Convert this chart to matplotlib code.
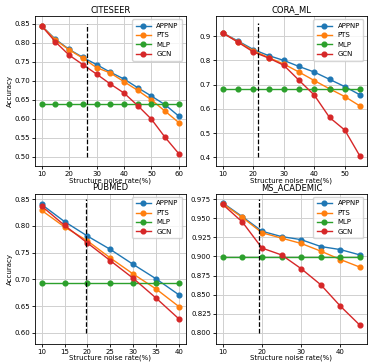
import numpy as np
import matplotlib.pyplot as plt

# data
cite_x = [10, 15, 20, 25, 30, 35, 40, 45, 50, 55, 60]
cite_appnp = [0.845, 0.810, 0.783, 0.762, 0.743, 0.723, 0.705, 0.682, 0.660, 0.637, 0.607]
cite_pts = [0.845, 0.808, 0.782, 0.760, 0.735, 0.721, 0.698, 0.675, 0.650, 0.620, 0.590]
cite_mlp = [0.639] * 11
cite_gcn = [0.845, 0.803, 0.768, 0.743, 0.718, 0.692, 0.668, 0.635, 0.599, 0.551, 0.508]

cora_x = [10, 15, 20, 25, 30, 35, 40, 45, 50, 55]
cora_appnp = [0.913, 0.880, 0.845, 0.820, 0.800, 0.775, 0.752, 0.722, 0.692, 0.658]
cora_pts = [0.913, 0.877, 0.840, 0.812, 0.785, 0.752, 0.717, 0.683, 0.651, 0.612]
cora_mlp = [0.682] * 10
cora_gcn = [0.913, 0.875, 0.835, 0.810, 0.780, 0.718, 0.657, 0.565, 0.513, 0.405]

pub_x = [10, 15, 20, 25, 30, 35, 40]
pub_appnp = [0.840, 0.808, 0.781, 0.756, 0.728, 0.701, 0.671]
pub_pts = [0.829, 0.798, 0.772, 0.740, 0.710, 0.682, 0.649]
pub_mlp = [0.694] * 7
pub_gcn = [0.837, 0.801, 0.768, 0.735, 0.702, 0.665, 0.626]

ms_x = [10, 15, 20, 25, 30, 35, 40, 45]
ms_appnp = [0.970, 0.952, 0.933, 0.926, 0.922, 0.913, 0.909, 0.902]
ms_pts = [0.969, 0.951, 0.931, 0.924, 0.917, 0.907, 0.896, 0.886]
ms_mlp = [0.899] * 8
ms_gcn = [0.968, 0.945, 0.911, 0.902, 0.884, 0.863, 0.835, 0.810]

panels = [
    ('CITESEER', cite_x, cite_appnp, cite_pts, cite_mlp, cite_gcn, 26.4, (0.50, 0.85), (0.4745, 0.871), [10, 20, 30, 40, 50, 60]),
    ('CORA_ML', cora_x, cora_appnp, cora_pts, cora_mlp, cora_gcn, 21.5, (0.40, 0.954), (0.363, 0.983), [10, 20, 30, 40, 50]),
    ('PUBMED', pub_x, pub_appnp, pub_pts, pub_mlp, pub_gcn, 19.8, (0.60, 0.85), (0.579, 0.8605), [10, 15, 20, 25, 30, 35, 40]),
    ('MS_ACADEMIC', ms_x, ms_appnp, ms_pts, ms_mlp, ms_gcn, 19.3, (0.80, 0.975), (0.7856, 0.9823), [10, 20, 30, 40]),
]

plt.rcParams['font.size'] = 5
fig, axes = plt.subplots(2, 2, figsize=(3.74, 3.64), dpi=100)
plt.subplots_adjust(left=0.093, right=0.981, top=0.956, bottom=0.055, wspace=0.2, hspace=0.18)

for ax, (name, x, appnp, pts, mlp, gcn, vx, vy, ylim, xt) in zip(axes.flat, panels):
    ax.plot(x, appnp, marker='o', ms=3.4, lw=1.0, color='#1f77b4', label='APPNP')
    ax.plot(x, pts, marker='o', ms=3.4, lw=1.0, color='#ff7f0e', label='PTS')
    ax.plot(x, mlp, marker='o', ms=3.4, lw=1.0, color='#2ca02c', label='MLP')
    ax.plot(x, gcn, marker='o', ms=3.4, lw=1.0, color='#d62728', label='GCN')
    ax.plot([vx, vx], vy, 'k--', lw=0.9)
    ax.set_title(name, fontsize=6, pad=2.5)
    ax.set_xticks(xt)
    ax.set_ylim(ylim)
    ax.grid(True, color='#d0d0d0', lw=0.7)
    for s in ax.spines.values():
        s.set_linewidth(0.6)
    ax.tick_params(length=2, width=0.6, pad=1.5)
    ax.set_xlabel('Structure noise rate(%)', labelpad=0)
    ax.legend(loc='upper right', fontsize=5, handlelength=2.2, borderpad=0.5, labelspacing=0.5)

axes[0, 0].set_ylabel('Accuracy', labelpad=1)
axes[1, 0].set_ylabel('Accuracy', labelpad=1)

plt.savefig('out.png', dpi=100)
